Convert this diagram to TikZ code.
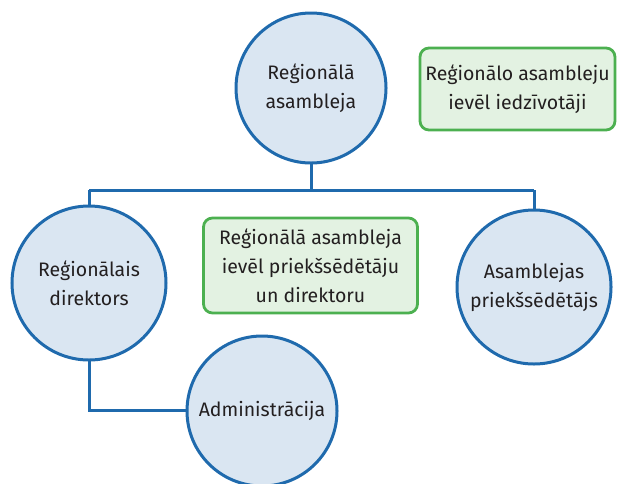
\documentclass[tikz,border=0pt]{standalone}
\usepackage{fontspec}
\setmainfont{Fira Sans}
\definecolor{cblue}{HTML}{1F6AAD}
\definecolor{cfill}{HTML}{DAE6F2}
\definecolor{ggreen}{HTML}{4CB050}
\definecolor{gfill}{HTML}{E3F2E2}
\definecolor{txt}{HTML}{231F20}
\begin{document}
\begin{tikzpicture}[x=1pt,y=-1pt,
  circ/.style={circle,draw=cblue,fill=cfill,line width=3pt,minimum size=#1,inner sep=0pt,align=center,text=txt,font=\fontsize{19.5}{29}\selectfont},
  gbox/.style={draw=ggreen,fill=gfill,line width=2.8pt,rounded corners=9pt,align=center,text=txt,font=\fontsize{19.5}{29}\selectfont,inner sep=0pt},
  conn/.style={draw=cblue,line width=3pt}]
\useasboundingbox (0,0) rectangle (617,483);
\coordinate (hl) at (89,190);
\coordinate (hr) at (534,190);
\coordinate (bend) at (89,410);
\draw[conn] (311,88) -- (311,190);
\draw[conn] (hl) -- (hr);
\draw[conn] (hl) -- (89,283);
\draw[conn] (hr) -- (534,287);
\draw[conn] (89,283) -- (bend) -- (262,410);
\node[circ=150pt] (top) at (311,88) {Reģionālā\\asambleja};
\node[circ=154pt] (left) at (89,283) {Reģionālais\\direktors};
\node[circ=154pt] (right) at (534,287) {Asamblejas\\priekšsēdētājs};
\node[circ=150pt] (adm) at (262,411) {Administrācija};
\node[gbox,minimum width=195pt,minimum height=82pt] (g1) at (517.5,89) {Reģionālo asambleju\\ievēl iedzīvotāji};
\node[gbox,minimum width=214pt,minimum height=95pt] (g2) at (310.5,265.5) {Reģionālā asambleja\\ievēl priekšsēdētāju\\un direktoru};
\end{tikzpicture}
\end{document}
